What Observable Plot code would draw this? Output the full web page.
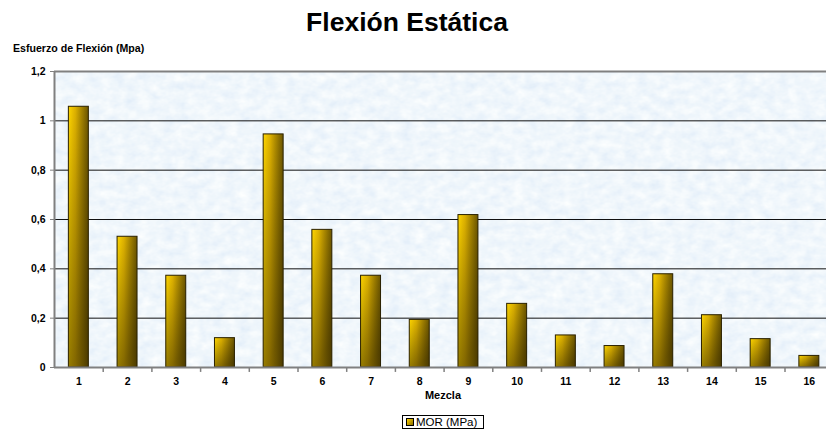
<!DOCTYPE html>
<html>
<head>
<meta charset="utf-8">
<script src="https://cdn.jsdelivr.net/npm/d3@7"></script>
<script src="https://cdn.jsdelivr.net/npm/@observablehq/plot@0.6"></script>
<style>
  html, body { margin: 0; padding: 0; background: #fff; overflow: hidden; }
  #wrap { position: relative; width: 826px; height: 432px; overflow: hidden; background: #fff;
          font-family: "Liberation Sans", Arial, sans-serif; }
  #title { position: absolute; left: 0; top: 9px; width: 814px; text-align: center;
           font-size: 26.5px; line-height: 26px; font-weight: bold; color: #000; }
  #ylabel { position: absolute; left: 13px; top: 43px; font-size: 10.6px; line-height: 11px;
            font-weight: bold; color: #000; white-space: nowrap; }
  #xlabel { position: absolute; left: 0; width: 886px; top: 390px; text-align: center;
            font-size: 11px; line-height: 11px; font-weight: bold; color: #000; }
  #chart { position: absolute; left: 0; top: 40px; }
  #legend { position: absolute; left: 402px; top: 415px; width: 80px; height: 12px;
            border: 1px solid #000; font-size: 11.5px; line-height: 12px; color: #000;
            white-space: nowrap; background: #fff; }
  #legend .sw { display: inline-block; width: 6px; height: 6px; border: 1px solid #000;
                margin: 0 2px 0 3px; vertical-align: 0px;
                background: linear-gradient(135deg, #ffd400, #8a6d00); }
</style>
</head>
<body>
<div id="wrap">
  <div id="title">Flexión Estática</div>
  <div id="ylabel">Esfuerzo de Flexión (Mpa)</div>
  <div id="chart"></div>
  <div id="xlabel">Mezcla</div>
  <div id="legend"><span class="sw"></span>MOR (MPa)</div>
</div>
<script>
const categories = ["1","2","3","4","5","6","7","8","9","10","11","12","13","14","15","16"];
const morValues = [1.057, 0.530, 0.372, 0.119, 0.945, 0.558, 0.372, 0.193, 0.618, 0.258, 0.130, 0.087, 0.378, 0.212, 0.115, 0.047];
const yTicks = [0, 0.2, 0.4, 0.6, 0.8, 1, 1.2];
const gridValues = [0.2, 0.4, 0.6, 0.8, 1];
const seriesName = "MOR (MPa)";

const data = categories.map((c, i) => ({mezcla: c, mor: morValues[i]}));

const W = 826, H = 360;
const mL = 54, mR = -7.2, mT = 31, mB = 33;
const step = (W - mL - mR) / categories.length;
const fmt = d => String(d).replace(".", ",");

const chart = Plot.plot({
  width: W,
  height: H,
  marginLeft: mL,
  marginRight: mR,
  marginTop: mT,
  marginBottom: mB,
  style: {fontFamily: "'Liberation Sans', Arial, sans-serif", fontSize: "10.5px", fontWeight: "bold", background: "transparent", overflow: "hidden"},
  x: {domain: categories, paddingInner: 0.59, paddingOuter: 0.295, round: false, label: null},
  y: {domain: [0, 1.2], label: null},
  marks: [
    Plot.frame({fill: "#dcebf7", stroke: "none"}),
    Plot.ruleY(gridValues, {stroke: "#111", strokeWidth: 1}),
    Plot.ruleY([1.2], {stroke: "#808080", strokeWidth: 2}),
    Plot.barY(data, {x: "mezcla", y: "mor", fill: "url(#barH)"}),
    Plot.barY(data, {x: "mezcla", y: "mor", fill: "url(#barV)", stroke: "#2a2100", strokeWidth: 1}),
    Plot.ruleY([0], {stroke: "#808080", strokeWidth: 2}),
    Plot.ruleX([categories[0]], {x: d => d, dx: -step / 2, y1: 0, y2: 1.2, stroke: "#808080", strokeWidth: 2}),
    Plot.ruleX(categories.slice(1), {x: d => d, dx: -step / 2, y1: 0, y2: -0.02, stroke: "#808080", strokeWidth: 1.5}),
    Plot.axisY(yTicks, {tickFormat: fmt, tickSize: 4, tickPadding: 5, stroke: "#808080", fill: "#000", label: null}),
    Plot.axisX(categories, {tickSize: 0, tickPadding: 10, fill: "#000", label: null})
  ]
});

// gradients and texture
const ns = "http://www.w3.org/2000/svg";
const defs = document.createElementNS(ns, "defs");
defs.innerHTML = `
  <linearGradient id="barH" x1="0" y1="0" x2="1" y2="0">
    <stop offset="0" stop-color="#ffd600"/>
    <stop offset="0.35" stop-color="#e6b800"/>
    <stop offset="1" stop-color="#7a6100"/>
  </linearGradient>
  <linearGradient id="barV" x1="0" y1="0" x2="0.25" y2="1">
    <stop offset="0" stop-color="#000" stop-opacity="0"/>
    <stop offset="1" stop-color="#1a1200" stop-opacity="0.48"/>
  </linearGradient>
  <filter id="tex" x="0" y="0" width="1" height="1">
    <feTurbulence type="fractalNoise" baseFrequency="0.08 0.12" numOctaves="3" seed="4" result="n"/>
    <feColorMatrix in="n" type="matrix" values="0.26 0 0 0 0.74  0.17 0 0 0 0.84  0.06 0 0 0 0.94  0 0 0 0 1" result="c"/>
    <feComposite in="c" in2="SourceGraphic" operator="in"/>
  </filter>`;
chart.insertBefore(defs, chart.firstChild);
const frameRect = chart.querySelector("rect");
if (frameRect) frameRect.setAttribute("filter", "url(#tex)");

document.getElementById("chart").appendChild(chart);
</script>
</body>
</html>
